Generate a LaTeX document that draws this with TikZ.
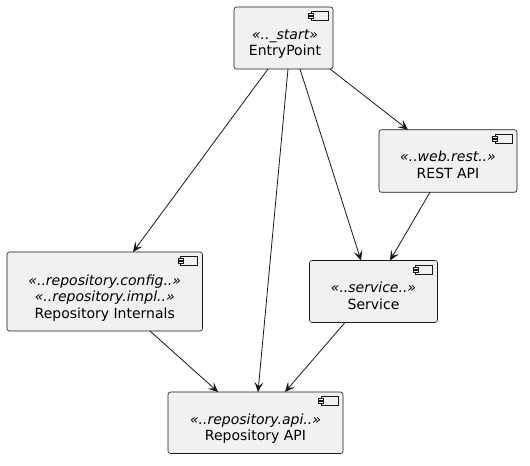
\documentclass[tikz,border=0pt]{standalone}
\usepackage{fontspec}
\setmainfont{DejaVu Sans}
\usetikzlibrary{arrows.meta,calc}
\definecolor{boxfill}{HTML}{F1F1F1}
\definecolor{ink}{HTML}{181818}
\tikzset{
  comp/.style={draw=ink, fill=boxfill, line width=0.6bp, rounded corners=2.5bp, inner sep=0pt, outer sep=0pt},
  lbl/.style={align=center, inner sep=0pt, font=\fontsize{14bp}{16.3bp}\selectfont, text=black},
  dep/.style={draw=ink, line width=0.8bp, -{Stealth[length=10bp,width=9bp,inset=4.5bp]}},
  pics/compicon/.style={code={
    \draw[draw=ink, fill=boxfill, line width=0.5bp] (-22,-4.5) rectangle (-5,-13.5);
    \draw[draw=ink, fill=boxfill, line width=0.5bp] (-24.5,-6.3) rectangle (-19.5,-8.3);
    \draw[draw=ink, fill=boxfill, line width=0.5bp] (-24.5,-9.7) rectangle (-19.5,-11.7);
  }}
}
\begin{document}
\begin{tikzpicture}[x=1bp,y=1bp]
\useasboundingbox[fill=white] (0,0) rectangle (530,-466);
% boxes
\node[comp, minimum width=99bp, minimum height=62bp] (ep) at (283.5,-38) {};
\node[comp, minimum width=138bp, minimum height=62.5bp] (rest) at (448,-161) {};
\node[comp, minimum width=195.5bp, minimum height=79bp] (ri) at (104.75,-291.5) {};
\node[comp, minimum width=128bp, minimum height=62bp] (svc) at (373.5,-291.5) {};
\node[comp, minimum width=175bp, minimum height=61.5bp] (api) at (255.5,-422.75) {};
% icons
\pic at (ep.north east) {compicon};
\pic at (rest.north east) {compicon};
\pic at (ri.north east) {compicon};
\pic at (svc.north east) {compicon};
\pic at (api.north east) {compicon};
% labels (base = baseline of last line)
\node[lbl, anchor=base] (ept) at ($(ep.north)+(1.5,-48.5)$) {\textit{«..\_start»}\\EntryPoint};
\node[lbl, anchor=base] (restt) at ($(rest.north)+(0,-48.5)$) {\textit{«..web.rest..»}\\REST API};
\node[lbl, anchor=base] (rit) at ($(ri.north)+(0,-66)$) {\textit{«..repository.config..»}\\\textit{«..repository.impl..»}\\Repository Internals};
\node[lbl, anchor=base] (svct) at ($(svc.north)+(0,-48.5)$) {\textit{«..service..»}\\Service};
\node[lbl, anchor=base] (apit) at ($(api.north)+(0,-48.5)$) {\textit{«..repository.api..»}\\Repository API};
% connectors
\draw[dep] ($(ep.south west)+(34,0)$) -- ($(ri.north west)+(126,0)$);
\draw[dep] ($(ep.south west)+(54,0)$) -- ($(api.north west)+(90,0)$);
\draw[dep] ($(ep.south west)+(66,0)$) -- ($(svc.north west)+(51.5,0)$);
\draw[dep] ($(ep.south west)+(96,0)$) -- ($(rest.north west)+(29,0)$);
\draw[dep] ($(rest.south west)+(51,0)$) -- ($(svc.north west)+(80.5,0)$);
\draw[dep] ($(ri.south west)+(143,0)$) -- ($(api.north west)+(50,0)$);
\draw[dep] ($(svc.south west)+(35.5,0)$) -- ($(api.north west)+(117,0)$);
\end{tikzpicture}
\end{document}
